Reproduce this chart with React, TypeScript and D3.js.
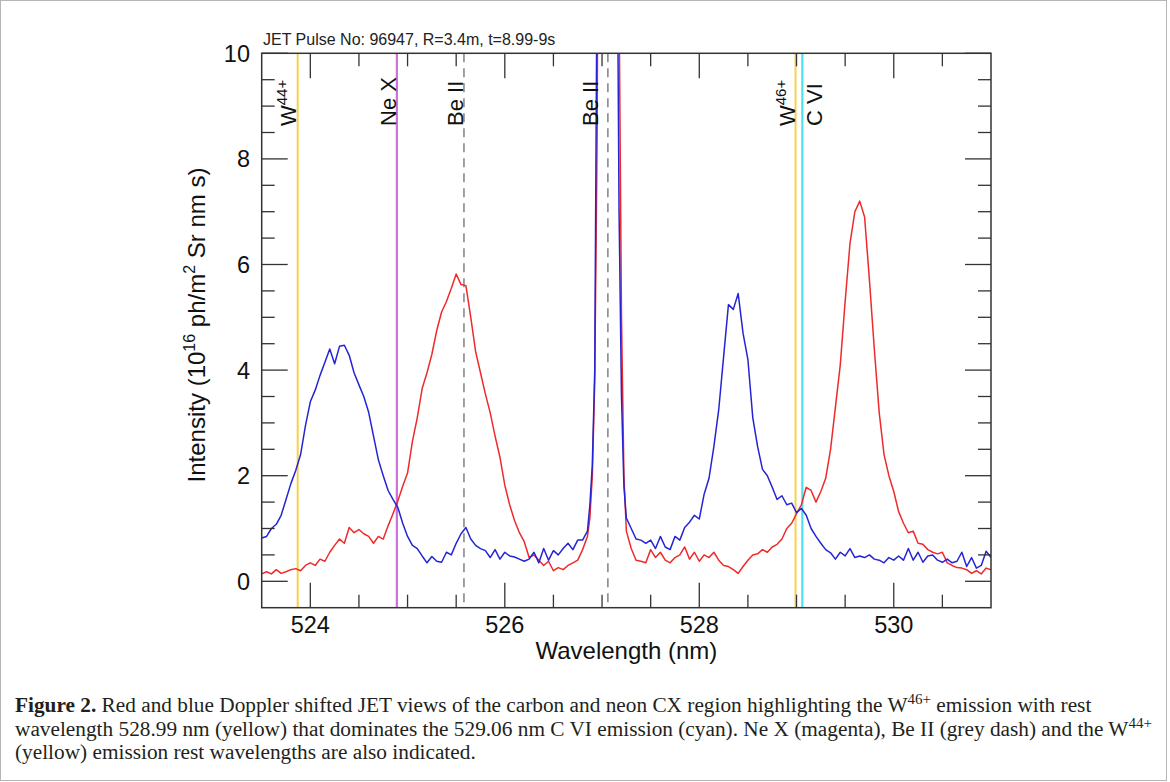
import React from 'react';
import * as d3 from 'd3';

// ---------- data ----------
const wavelengths = [
  523.5, 523.55, 523.6, 523.65, 523.7, 523.75, 523.8, 523.85, 523.9, 523.95,
  524.0, 524.05, 524.1, 524.15, 524.2, 524.25, 524.3, 524.35, 524.4, 524.45,
  524.5, 524.55, 524.6, 524.65, 524.7, 524.75, 524.8, 524.85, 524.9, 524.95,
  525.0, 525.05, 525.1, 525.15, 525.2, 525.25, 525.3, 525.35, 525.4, 525.45,
  525.5, 525.55, 525.6, 525.65, 525.7, 525.75, 525.8, 525.85, 525.9, 525.95,
  526.0, 526.05, 526.1, 526.15, 526.2, 526.25, 526.3, 526.35, 526.4, 526.45,
  526.5, 526.55, 526.6, 526.65, 526.7, 526.75, 526.8, 526.85, 526.875, 526.9,
  526.925, 526.95, 526.975, 527.0, 527.025, 527.05, 527.075, 527.1, 527.125, 527.15,
  527.175, 527.2, 527.225, 527.25, 527.3, 527.35, 527.4, 527.45, 527.5, 527.55,
  527.6, 527.65, 527.7, 527.75, 527.8, 527.85, 527.9, 527.95, 528.0, 528.05,
  528.1, 528.15, 528.2, 528.25, 528.3, 528.35, 528.4, 528.45, 528.5, 528.55,
  528.6, 528.65, 528.7, 528.75, 528.8, 528.85, 528.9, 528.95, 529.0, 529.05,
  529.1, 529.15, 529.2, 529.25, 529.3, 529.35, 529.4, 529.45, 529.5, 529.55,
  529.6, 529.65, 529.7, 529.75, 529.8, 529.85, 529.9, 529.95, 530.0, 530.05,
  530.1, 530.15, 530.2, 530.25, 530.3, 530.35, 530.4, 530.45, 530.5, 530.55,
  530.6, 530.65, 530.7, 530.75, 530.8, 530.85, 530.9, 530.95, 531.0,
];

const blueIntensity = [
  0.82, 0.85, 1.0, 1.08, 1.25, 1.55, 1.85, 2.1, 2.4, 2.95,
  3.4, 3.62, 3.9, 4.15, 4.4, 4.12, 4.45, 4.47, 4.28, 3.95,
  3.72, 3.5, 3.2, 2.75, 2.3, 2.0, 1.72, 1.55, 1.4, 1.1,
  0.85, 0.68, 0.62, 0.48, 0.35, 0.47, 0.38, 0.36, 0.55, 0.5,
  0.72, 0.9, 1.02, 0.8, 0.68, 0.62, 0.58, 0.45, 0.6, 0.42,
  0.55, 0.48, 0.46, 0.42, 0.38, 0.42, 0.55, 0.35, 0.62, 0.4,
  0.58, 0.5, 0.62, 0.72, 0.6, 0.78, 0.78, 0.95, 1.45, 2.2,
  4.0, 12, 30, 45, 52, 55, 52, 42, 28, 14,
  7.0, 3.5, 1.8, 1.2, 1.0, 0.8, 0.78, 0.72, 0.78, 0.62,
  0.85, 0.65, 0.6, 0.85, 0.78, 1.02, 1.12, 1.25, 1.18, 1.65,
  1.95, 2.55, 3.25, 4.25, 5.24, 5.15, 5.45, 4.7, 4.2, 3.1,
  2.55, 2.12, 2.0, 1.78, 1.55, 1.62, 1.45, 1.48, 1.3, 1.38,
  1.25, 1.0, 0.85, 0.72, 0.6, 0.54, 0.42, 0.55, 0.48, 0.62,
  0.45, 0.48, 0.45, 0.5, 0.42, 0.4, 0.35, 0.45, 0.4, 0.48,
  0.4, 0.62, 0.4, 0.55, 0.36, 0.48, 0.5, 0.4, 0.36, 0.42,
  0.35, 0.38, 0.55, 0.28, 0.45, 0.25, 0.3, 0.57, 0.45,
];

const redIntensity = [
  0.14, 0.18, 0.14, 0.22, 0.15, 0.18, 0.22, 0.24, 0.2, 0.3,
  0.35, 0.3, 0.42, 0.38, 0.55, 0.68, 0.8, 0.72, 1.02, 0.92,
  0.98, 0.9, 0.85, 0.72, 0.85, 0.8, 1.05, 1.28, 1.52, 1.8,
  2.05, 2.65, 3.1, 3.65, 3.95, 4.3, 4.75, 5.1, 5.3, 5.55,
  5.82, 5.62, 5.6, 5.0, 4.35, 3.95, 3.55, 3.19, 2.75, 2.35,
  1.82, 1.45, 1.15, 0.92, 0.75, 0.45, 0.5, 0.4, 0.3, 0.38,
  0.2, 0.26, 0.22, 0.3, 0.35, 0.4, 0.6, 0.85, 1.2, 2.0,
  3.8, 8.5, 22, 42, 50, 55, 52, 45, 32, 18,
  11, 5.0, 2.0, 0.95, 0.62, 0.4, 0.38, 0.35, 0.6, 0.45,
  0.55, 0.4, 0.35, 0.45, 0.5, 0.65, 0.42, 0.55, 0.38, 0.5,
  0.45, 0.55, 0.4, 0.3, 0.28, 0.22, 0.15, 0.28, 0.4, 0.5,
  0.52, 0.6, 0.55, 0.65, 0.7, 0.8, 1.0, 1.1, 1.28, 1.45,
  1.78, 1.72, 1.5, 1.7, 1.95, 2.5, 3.3, 4.1, 5.3, 6.4,
  7.0, 7.2, 6.9, 5.7, 4.4, 3.2, 2.4, 2.0, 1.7, 1.32,
  1.1, 0.92, 0.95, 0.72, 0.7, 0.6, 0.55, 0.52, 0.55, 0.35,
  0.3, 0.26, 0.25, 0.22, 0.15, 0.2, 0.14, 0.25, 0.22,
];

const xMajorTicks = [524, 526, 528, 530];
const yMajorTicks = [0, 2, 4, 6, 8, 10];

// rest wavelengths of the marked lines (nm)
const restWavelengths = [523.87, 524.89, 525.58, 527.06, 528.99, 529.06];
const restKinds = ['yellow', 'magenta', 'grey', 'grey', 'yellow', 'cyan'];

// line labels
const labelMain = ['W', 'Ne X', 'Be II', 'Be II', 'W', 'C VI'];
const labelSup = ['44+', '', '', '', '46+', ''];

const titleText = 'JET Pulse No: 96947, R=3.4m, t=8.99-9s';

// ---------- styling / layout ----------
const W = 1170;
const H = 782;
const PL = 261.7, PR = 991, PT = 53.3, PB = 607.7;
const SANS = "'Liberation Sans', Arial, Helvetica, sans-serif";
const SERIF = "'Liberation Serif', 'Times New Roman', serif";
const AXIS = '#333';
const kindStyle: Record<string, { stroke: string; width: number; dash?: string }> = {
  yellow: { stroke: '#f6d24a', width: 2 },
  magenta: { stroke: '#cf6fdc', width: 2.2 },
  grey: { stroke: '#8a8a8a', width: 1.6, dash: '9 6' },
  cyan: { stroke: '#4fe0f0', width: 2.2 },
};
// label baseline offsets relative to each line (px)
const labelDx = [-2, -1, -1, -10, -1, 20];

export default function App() {
  const x = d3.scaleLinear().domain([523.5, 531]).range([PL, PR]);
  const y = d3.scaleLinear().domain([-0.5, 10]).range([PB, PT]);

  const line = d3
    .line<number>()
    .x((_, i) => x(wavelengths[i]))
    .y((d) => y(d));

  const xMinor = d3.range(524.5, 531, 0.5).filter((v) => !xMajorTicks.includes(v));
  const yMinor = d3.range(0.5, 10, 0.5).filter((v) => !yMajorTicks.includes(v));

  const MAJ = 25, MIN = 13;

  return (
    <svg
      width={W}
      height={H}
      style={{ position: 'absolute', left: 0, top: 0, background: '#fff' }}
      fontFamily={SANS}
    >
      <rect x={0.5} y={0.5} width={W - 4} height={H - 2} fill="#fff" stroke="#b5b5b5" strokeWidth={1} />
      <defs>
        <clipPath id="plotClip">
          <rect x={PL} y={PT} width={PR - PL} height={PB - PT} />
        </clipPath>
      </defs>

      {/* title */}
      <text x={263} y={45} fontSize={16} fill="#222">
        {titleText}
      </text>

      {/* vertical rest-wavelength lines */}
      <g>
        {restWavelengths.map((wl, i) => {
          const s = kindStyle[restKinds[i]];
          return (
            <line
              key={'v' + i}
              x1={x(wl)}
              x2={x(wl)}
              y1={PT}
              y2={PB}
              stroke={s.stroke}
              strokeWidth={s.width}
              strokeDasharray={s.dash}
            />
          );
        })}
      </g>

      {/* spectra */}
      <g clipPath="url(#plotClip)">
        <path d={line(redIntensity) || ''} fill="none" stroke="#ee2a2a" strokeWidth={1.5} strokeLinejoin="round" />
        <path d={line(blueIntensity) || ''} fill="none" stroke="#2424d6" strokeWidth={1.5} strokeLinejoin="round" />
      </g>

      {/* line labels */}
      {restWavelengths.map((wl, i) => (
        <text
          key={'l' + i}
          transform={`translate(${x(wl) + labelDx[i]},126) rotate(-90)`}
          fontSize={22}
          fill="#111"
        >
          {labelMain[i]}
          {labelSup[i] ? (
            <tspan fontSize={15} dy={-9}>
              {labelSup[i]}
            </tspan>
          ) : null}
        </text>
      ))}

      {/* frame */}
      <rect x={PL} y={PT} width={PR - PL} height={PB - PT} fill="none" stroke={AXIS} strokeWidth={1.5} />

      {/* x ticks */}
      <g stroke={AXIS} strokeWidth={1.3}>
        {xMajorTicks.map((t) => (
          <g key={'xm' + t}>
            <line x1={x(t)} x2={x(t)} y1={PB} y2={PB - MAJ} />
            <line x1={x(t)} x2={x(t)} y1={PT} y2={PT + MAJ} />
          </g>
        ))}
        {xMinor.map((t) => (
          <g key={'xn' + t}>
            <line x1={x(t)} x2={x(t)} y1={PB} y2={PB - MIN} />
            <line x1={x(t)} x2={x(t)} y1={PT} y2={PT + MIN} />
          </g>
        ))}
        {yMajorTicks.map((t) => (
          <g key={'ym' + t}>
            <line x1={PL} x2={PL + MAJ + 1} y1={y(t)} y2={y(t)} />
            <line x1={PR} x2={PR - MAJ - 1} y1={y(t)} y2={y(t)} />
          </g>
        ))}
        {yMinor.map((t) => (
          <g key={'yn' + t}>
            <line x1={PL} x2={PL + MIN} y1={y(t)} y2={y(t)} />
            <line x1={PR} x2={PR - MIN} y1={y(t)} y2={y(t)} />
          </g>
        ))}
      </g>

      {/* tick labels */}
      {xMajorTicks.map((t) => (
        <text key={'xl' + t} x={x(t)} y={633} fontSize={23.5} textAnchor="middle" fill="#111">
          {t}
        </text>
      ))}
      {yMajorTicks.map((t) => (
        <text key={'yl' + t} x={250} y={y(t) + 8.5} fontSize={23.5} textAnchor="end" fill="#111">
          {t}
        </text>
      ))}

      {/* axis titles */}
      <text x={(PL + PR) / 2} y={659} fontSize={24} textAnchor="middle" fill="#111">
        Wavelength (nm)
      </text>
      <text transform="translate(205,325) rotate(-90)" fontSize={24} textAnchor="middle" fill="#111">
        Intensity (10
        <tspan fontSize={16} dy={-10}>16</tspan>
        <tspan dy={10}> ph/m</tspan>
        <tspan fontSize={16} dy={-10}>2</tspan>
        <tspan dy={10}> Sr nm s)</tspan>
      </text>

      {/* caption */}
      <g fontFamily={SERIF} fontSize={21.3} fill="#231f20">
        <text x={15} y={712}>
          <tspan fontWeight="bold">Figure 2.</tspan> Red and blue Doppler shifted JET views of the carbon and neon CX region
          highlighting the W<tspan fontSize={15} dy={-8}>46+</tspan>
          <tspan dy={8}> emission with rest</tspan>
        </text>
        <text x={15} y={735.5}>
          wavelength 528.99 nm (yellow) that dominates the 529.06 nm C VI emission (cyan). Ne X (magenta), Be II (grey dash) and the W
          <tspan fontSize={15} dy={-8}>44+</tspan>
        </text>
        <text x={15} y={759}>
          (yellow) emission rest wavelengths are also indicated.
        </text>
      </g>
    </svg>
  );
}
